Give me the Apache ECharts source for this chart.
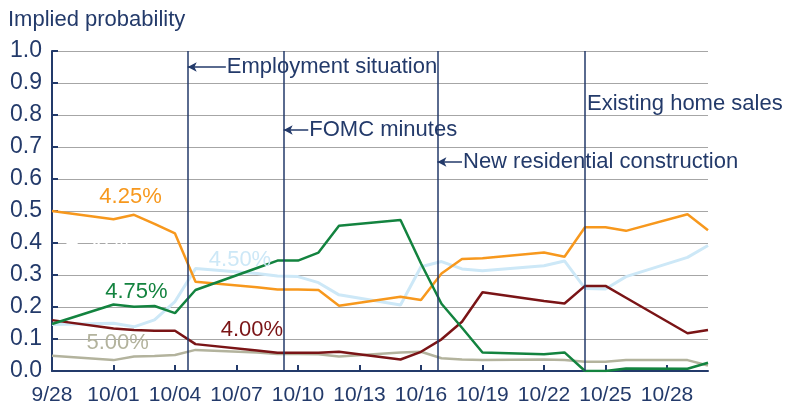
<!DOCTYPE html>
<html>
<head>
<meta charset="utf-8">
<script src="https://cdn.jsdelivr.net/npm/echarts@6/dist/echarts.min.js"></script>
<style>
    html, body { margin: 0; padding: 0; background: #fff; }
    #chart { width: 786px; height: 409px; }
</style>
</head>
<body>
<div id="chart"></div>
<script>
// 数据
var dates = ['2012-09-28', '2012-10-01', '2012-10-02', '2012-10-03', '2012-10-04', '2012-10-05',
    '2012-10-08', '2012-10-09', '2012-10-10', '2012-10-11', '2012-10-12', '2012-10-15',
    '2012-10-16', '2012-10-17', '2012-10-18', '2012-10-19', '2012-10-22', '2012-10-23',
    '2012-10-24', '2012-10-25', '2012-10-26', '2012-10-29', '2012-10-30'];
var xTickLabels = ['9/28', '10/01', '10/04', '10/07', '10/10', '10/13', '10/16', '10/19', '10/22', '10/25', '10/28'];

var rate400 = [0.159, 0.133, 0.128, 0.126, 0.126, 0.084, 0.064, 0.057, 0.057, 0.057, 0.060, 0.036,
    0.060, 0.099, 0.154, 0.246, 0.219, 0.211, 0.266, 0.266, 0.229, 0.118, 0.128];
var rate425 = [0.500, 0.474, 0.488, 0.460, 0.430, 0.279, 0.262, 0.255, 0.255, 0.253, 0.204, 0.232,
    0.222, 0.305, 0.350, 0.352, 0.370, 0.357, 0.449, 0.449, 0.438, 0.490, 0.440];
var rate450 = [0.145, 0.149, 0.138, 0.160, 0.217, 0.320, 0.305, 0.297, 0.295, 0.276, 0.238, 0.206,
    0.326, 0.342, 0.319, 0.313, 0.329, 0.344, 0.258, 0.256, 0.295, 0.355, 0.392];
var rate475 = [0.147, 0.208, 0.201, 0.203, 0.181, 0.253, 0.322, 0.345, 0.345, 0.370, 0.454, 0.472,
    0.336, 0.210, 0.135, 0.058, 0.052, 0.058, 0.000, 0.000, 0.008, 0.007, 0.026];
var rate500 = [0.048, 0.034, 0.045, 0.047, 0.050, 0.066, 0.058, 0.053, 0.053, 0.052, 0.045, 0.058,
    0.060, 0.040, 0.036, 0.034, 0.036, 0.034, 0.029, 0.029, 0.034, 0.034, 0.017];

// 事件 (距 9/28 的天数)
var eventNames = ['Employment situation', 'FOMC minutes', 'New residential construction', 'Existing home sales'];
var eventDays = [6.62, 11.3, 18.8, 26.0];

(function () {
    var navy = '#233a6a';
    var font = 'Liberation Sans, Arial, sans-serif';
    var t0 = Date.parse(dates[0]);
    function dayOf(s) {
        return Math.round((Date.parse(s) - t0) / 86400000);
    }
    function pairs(vals) {
        return vals.map(function (v, i) { return [dayOf(dates[i]), v]; });
    }
    // 曲线标签
    function tag(text, x, y, color) {
        return {
            coord: [x, y],
            symbolSize: 0,
            label: { show: true, position: 'inside', formatter: text, color: color, fontSize: 22, fontFamily: font }
        };
    }
    function line(name, vals, color, width, tags) {
        return {
            name: name,
            type: 'line',
            data: pairs(vals),
            symbol: 'none',
            lineStyle: { color: color, width: width },
            itemStyle: { color: color },
            animation: false,
            markPoint: { silent: true, animation: false, symbol: 'circle', data: tags }
        };
    }
    // 事件箭头 + 文字
    var arrowEnd = [8.48, 12.5, 20.0];
    var arrowY = [0.95, 0.753, 0.653];
    var eventLines = eventDays.map(function (d) { return { xAxis: d }; });
    for (var i = 0; i < 3; i++) {
        eventLines.push([
            {
                coord: [eventDays[i], arrowY[i]], symbol: 'arrow', symbolSize: [7, 9],
                label: { show: true, position: 'end', distance: 1, formatter: eventNames[i], color: navy, fontSize: 22, fontFamily: font }
            },
            { coord: [arrowEnd[i], arrowY[i]], symbol: 'none' }
        ]);
    }

    var myChart = echarts.init(document.getElementById('chart'));
    var option = {
        backgroundColor: '#fff',
        title: {
            text: 'Implied probability',
            left: 3,
            top: 4,
            textStyle: { color: navy, fontSize: 22, fontWeight: 'normal', fontFamily: font }
        },
        grid: { left: 52, right: 78, top: 51, bottom: 38 },
        xAxis: {
            type: 'value',
            min: 0,
            max: 32,
            splitLine: { show: false },
            axisLine: { lineStyle: { color: navy, width: 2 } },
            axisTick: {
                inside: true, length: 6, lineStyle: { color: navy, width: 2 },
                customValues: xTickLabels.map(function (l, i) { return i * 3; })
            },
            axisLabel: {
                color: navy, fontSize: 21, margin: 14, fontFamily: font,
                customValues: xTickLabels.map(function (l, i) { return i * 3; }),
                formatter: function (v) { return xTickLabels[v / 3] || ''; }
            }
        },
        yAxis: {
            type: 'value',
            min: 0,
            max: 1,
            interval: 0.1,
            axisLine: { show: true, lineStyle: { color: navy, width: 2 } },
            axisTick: { show: true, inside: true, length: 6, lineStyle: { color: navy, width: 2 } },
            axisLabel: {
                color: navy, fontSize: 23, margin: 10, fontFamily: font,
                formatter: function (v) { return v.toFixed(1); }
            },
            splitLine: { lineStyle: { color: '#a6a6a6', width: 1 } }
        },
        series: [
            line('4.50%', rate450, '#cde8f7', 3, [
                tag('4.50%', 9.17, 0.347, '#cde8f7'),
                tag('4.50%', 2.2, 0.403, '#ffffff')
            ]),
            line('5.00%', rate500, '#b3b39d', 2.5, [tag('5.00%', 3.2, 0.088, '#b3b39d')]),
            line('4.25%', rate425, '#f7981d', 2.5, [tag('4.25%', 3.83, 0.544, '#f7981d')]),
            line('4.00%', rate400, '#7a1416', 2.5, [tag('4.00%', 9.75, 0.128, '#7a1416')]),
            line('4.75%', rate475, '#13833f', 2.5, [tag('4.75%', 4.12, 0.247, '#13833f')]),
            {
                name: 'events',
                type: 'line',
                data: [],
                animation: false,
                markLine: {
                    silent: true,
                    animation: false,
                    symbol: 'none',
                    label: { show: false },
                    lineStyle: { color: navy, width: 1.5, type: 'solid' },
                    data: eventLines
                },
                markPoint: {
                    silent: true,
                    animation: false,
                    data: [{
                        coord: [eventDays[3], 0.834],
                        symbolSize: 0,
                        label: { show: true, position: 'right', distance: 2, formatter: eventNames[3], color: navy, fontSize: 22, fontFamily: font }
                    }]
                }
            }
        ]
    };
    myChart.setOption(option);
})();
</script>
</body>
</html>
